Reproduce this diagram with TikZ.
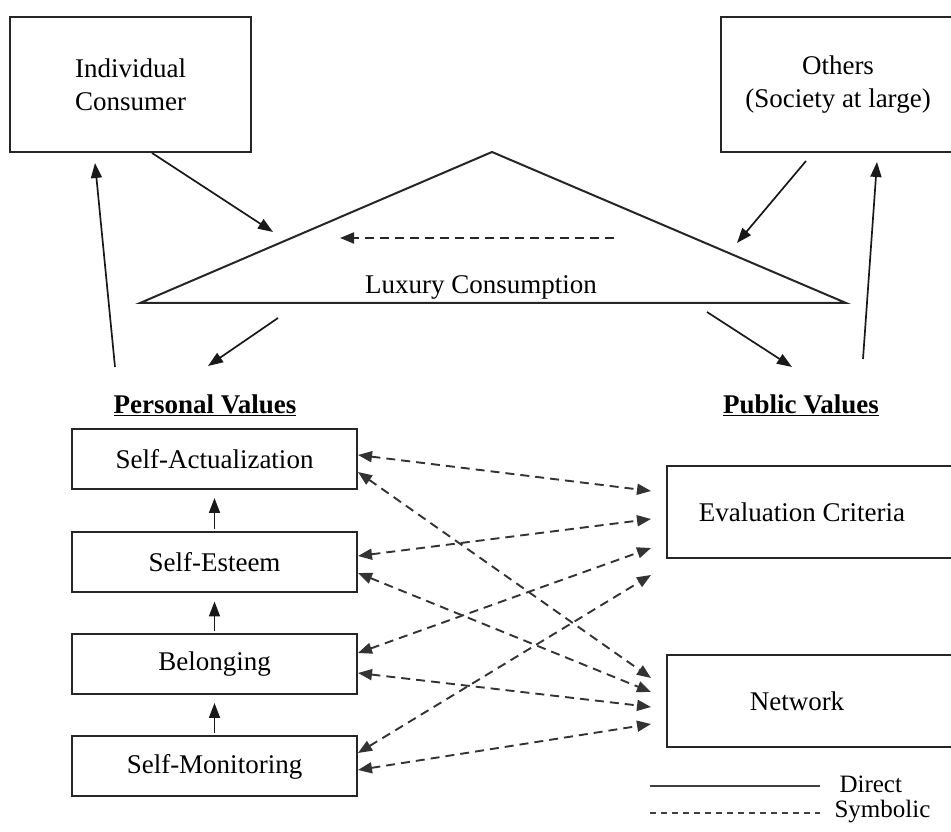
\documentclass[tikz,border=0pt]{standalone}
\usepackage{fontspec}
\setmainfont{Liberation Serif}
\usetikzlibrary{arrows.meta,calc}
\begin{document}
\begin{tikzpicture}[x=1pt,y=1pt,
  font=\fontsize{27}{31}\selectfont,
  box/.style={draw=black!85,line width=2pt,inner sep=0pt,align=center},
  pbox/.style={box,minimum width=285pt,minimum height=60pt},
  qbox/.style={box,minimum width=288pt,minimum height=92pt},
  direct/.style={draw=black!90,line width=1.7pt,-{Triangle[length=15pt,width=11pt]}},
  symb/.style={draw=black!80,line width=1.9pt,dash pattern=on 9pt off 6pt,
    {Triangle[length=14pt,width=11pt]}-{Triangle[length=14pt,width=11pt]}},
  head/.style={font=\fontsize{27}{31}\selectfont\bfseries}]
\useasboundingbox (0,0) rectangle (951,832);

% top boxes
\node[box,minimum width=241pt,minimum height=135pt] (ind) at (130.5,747.5)
  {Individual\\[2pt]Consumer};
\node[box,minimum width=234pt,minimum height=135pt] (oth) at (838,747.5)
  {Others\\[2pt](Society at large)};

% luxury consumption triangle
\coordinate (apex) at (492,680);
\coordinate (bl) at (140,529);
\coordinate (br) at (846,529);
\draw[draw=black!85,line width=2pt,line join=miter] (bl) -- (apex) -- (br) -- cycle;
\node (lux) at (481,545) {Luxury Consumption};
\coordinate (dr) at (614,594);
\coordinate (dl) at (340,594);
\draw[draw=black!85,line width=2pt,dash pattern=on 9pt off 6pt,
  -{Triangle[length=14pt,width=11pt]}] (dr) -- (dl);

% headings
\node[head] (pers) at (205,427) {\underline{Personal Values}};
\node[head] (pub) at (801,427) {\underline{Public Values}};

% personal values ladder
\node[pbox] (sa) at (214.5,373) {Self-Actualization};
\node[pbox] (se) at (214.5,269.5) {Self-Esteem};
\node[pbox] (be) at (214.5,168) {Belonging};
\node[pbox] (sm) at (214.5,65.5) {Self-Monitoring};
\foreach \a/\b in {se/sa,be/se,sm/be}
  \draw[direct,shorten <=2pt,shorten >=8pt] (\a.north) -- (\b.south);

% public values
\node[qbox] (ec) at (811,320) {\hspace*{-18pt}Evaluation Criteria};
\node[qbox] (nw) at (811,131) {\hspace*{-28pt}Network};

% direct links
\coordinate (i1) at (152,679);
\coordinate (i2) at (273,600);
\draw[direct] (i1) -- (i2);
\coordinate (o1) at (806,671);
\coordinate (o2) at (737,589);
\draw[direct] (o1) -- (o2);
\coordinate (t1) at (278,514);
\coordinate (t1e) at (208,466);
\draw[direct] (t1) -- (t1e);
\coordinate (t2) at (707,520);
\coordinate (t3) at (792,465);
\draw[direct] (t2) -- (t3);
\coordinate (p1) at (115,465);
\draw[direct] (p1) -- ([xshift=-35.5pt,yshift=-10pt]ind.south);
\coordinate (q1) at (863,473);
\draw[direct] (q1) -- ([xshift=39pt,yshift=-9pt]oth.south);

% symbolic links
\draw[symb] ([yshift=4pt]sa.east)     -- ([xshift=-15pt,yshift=21pt]ec.west);
\draw[symb] ([yshift=-13pt]sa.east)   -- ([xshift=-15pt,yshift=23pt]nw.west);
\draw[symb] ([yshift=6.5pt]se.east)   -- ([xshift=-15pt,yshift=-7pt]ec.west);
\draw[symb] ([yshift=-10.5pt]se.east) -- ([xshift=-15pt,yshift=9pt]nw.west);
\draw[symb] ([yshift=11pt]be.east)    -- ([xshift=-15pt,yshift=-36pt]ec.west);
\draw[symb] ([yshift=-9pt]be.east)    -- ([xshift=-15pt,yshift=-6pt]nw.west);
\draw[symb] ([yshift=13.5pt]sm.east)  -- ([xshift=-15pt,yshift=-63pt]ec.west);
\draw[symb] ([yshift=-3.5pt]sm.east)  -- ([xshift=-15pt,yshift=-23pt]nw.west);

% legend
\coordinate (la) at (650,46);
\coordinate (lb) at (820,46);
\coordinate (lc) at (650,19);
\coordinate (ld) at (820,19);
\draw[draw=black!75,line width=2pt] (la) -- (lb);
\draw[draw=black!75,line width=2pt,dash pattern=on 6pt off 5pt] (lc) -- (ld);
\node[anchor=west,font=\fontsize{25}{28}\selectfont] (ldir) at (836,48) {Direct};
\node[anchor=west,font=\fontsize{25}{28}\selectfont] (lsym) at (831,20) {Symbolic};
\end{tikzpicture}
\end{document}
